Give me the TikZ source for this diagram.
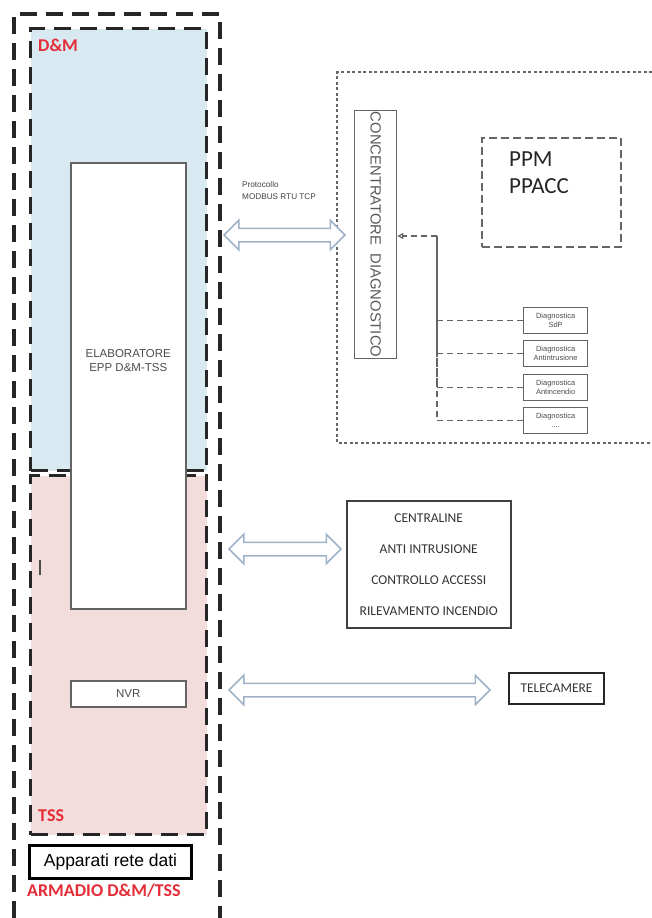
\documentclass[tikz,border=0pt]{standalone}
\usepackage{fontspec}
\setmainfont{Carlito}
\newfontfamily\arialfont{Liberation Sans}
\usetikzlibrary{calc,arrows.meta,shapes.arrows,positioning}
\definecolor{dmblue}{RGB}{216,233,241}
\definecolor{tsspink}{RGB}{242,220,220}
\definecolor{labelred}{RGB}{228,45,55}
\definecolor{boxgray}{RGB}{100,100,100}
\definecolor{arrowblue}{RGB}{160,178,200}

\tikzset{
  cabinet/.style={line width=3.2pt, dash pattern=on 17pt off 9pt, draw=black!85},
  zonebox/.style={cabinet, inner sep=0pt, anchor=north west},
  redlabel/.style={font=\bfseries\fontsize{18}{18}\selectfont, text=labelred, inner sep=0pt, anchor=north west},
  unitbox/.style={draw=boxgray, line width=1.5pt, fill=white, inner sep=0pt, anchor=north west},
  unittext/.style={font=\arialfont\fontsize{11.5}{13.5}\selectfont, text=black!70, align=center, inner sep=0pt},
  linkarrow/.style={double arrow, draw=arrowblue, line width=1.5pt, fill=white, inner sep=6pt, double arrow head extend=8pt},
  diagframe/.style={draw=black!60, line width=1.3pt, dash pattern=on 3pt off 2.5pt},
  diagbox/.style={draw=boxgray, line width=1.2pt, minimum width=64pt, minimum height=26pt, inner sep=0pt, anchor=north west, font=\arialfont\fontsize{7.5}{9}\selectfont, align=center, text=black!70},
  diagline/.style={draw=boxgray, line width=1.2pt, dash pattern=on 6pt off 4pt},
}

\begin{document}
\begin{tikzpicture}[x=1pt,y=-1pt]
  \useasboundingbox (0,0) rectangle (652,918);

  % armadio D&M/TSS
  \draw[cabinet] (14,918) -- (14,14) -- (220,14) -- (220,918);
  \node[zonebox, fill=dmblue, minimum width=176pt, minimum height=442pt] (dm) at (29,27) {};
  \node[zonebox, fill=tsspink, minimum width=176pt, minimum height=359pt] (tss) at (29,474) {};
  \node[redlabel] (dmlabel) at (38,39) {D\&M};
  \node[redlabel, anchor=south west] (tsslabel) at (38,822) {TSS};

  \node[unitbox, minimum width=115pt, minimum height=446pt] (elab) at (70,162) {};
  \node[unittext] (elabtext) at ($(elab.center)+(0,-25)$) {ELABORATORE\\EPP D\&M-TSS};
  \node[unitbox, minimum width=115pt, minimum height=26pt, unittext] (nvr) at (70,680) {NVR};
  \draw[line width=1.5pt, black!70] (40,560) -- (40,575);

  \node[draw, line width=3pt, anchor=north west, minimum width=162pt, minimum height=33pt,
        font=\arialfont\fontsize{17.5}{17.5}\selectfont] (rete) at (28,844) {Apparati rete dati};
  \node[redlabel] (armlabel) at (27,884) {ARMADIO D\&M/TSS};

  % diagnostica
  \draw[diagframe] (652,72) -- (337,72) -- (337,443) -- (652,443);
  \node[draw=boxgray, line width=1.3pt, minimum width=42pt, minimum height=248pt, anchor=north west] (conc) at (354,110) {};
  \node[rotate=-90, font=\arialfont\fontsize{14.8}{15}\selectfont, text=black!65] (conctext) at (conc.center) {CONCENTRATORE\ \ DIAGNOSTICO};

  \node[draw=black!60, line width=1.5pt, dash pattern=on 8pt off 4pt, minimum width=139pt, minimum height=109pt, anchor=north west] (ppm) at (481,137) {};
  \node[anchor=north west, align=left, inner sep=0pt, font=\fontsize{23}{27}\selectfont, text=black!85] (ppmtext) at (509,152) {PPM\\PPACC};

  \node[diagbox] (d1) at (523,307) {Diagnostica\\SdP};
  \node[diagbox] (d2) at (523,340) {Diagnostica\\Antintrusione};
  \node[diagbox] (d3) at (523,374) {Diagnostica\\Antincendio};
  \node[diagbox] (d4) at (523,407) {Diagnostica\\....};
  \coordinate (hub) at (437,236);
  \draw[diagline, -{Triangle[open,length=6pt,width=6pt]}] (hub) -- (hub -| conc.east);
  \foreach \i in {1,...,4}
    \draw[diagline] (d\i.west) -| (hub);

  % collegamenti
  \node[linkarrow, minimum height=121pt] (link1) at (284.5,235) {};
  \node[anchor=north west, align=left, inner sep=0pt, font=\arialfont\fontsize{8.2}{12}\selectfont, text=black!75] (proto) at (242,181) {Protocollo\\MODBUS RTU TCP};

  \node[draw=black!75, line width=1.5pt, anchor=north west, minimum width=164pt, minimum height=127pt,
        font=\fontsize{13.5}{31}\selectfont, align=center, text=black!80] (centr) at (346,500)
        {CENTRALINE\\ANTI INTRUSIONE\\CONTROLLO ACCESSI\\RILEVAMENTO INCENDIO};
  \node[linkarrow, minimum height=112pt] (link2) at (285,549) {};

  \node[draw=black!85, line width=2pt, anchor=north west, minimum width=95pt, minimum height=31pt,
        font=\fontsize{13.4}{14}\selectfont, text=black!80] (tele) at (508,672) {TELECAMERE};
  \node[linkarrow, minimum height=261pt] (link3) at (359.5,690) {};
\end{tikzpicture}
\end{document}
